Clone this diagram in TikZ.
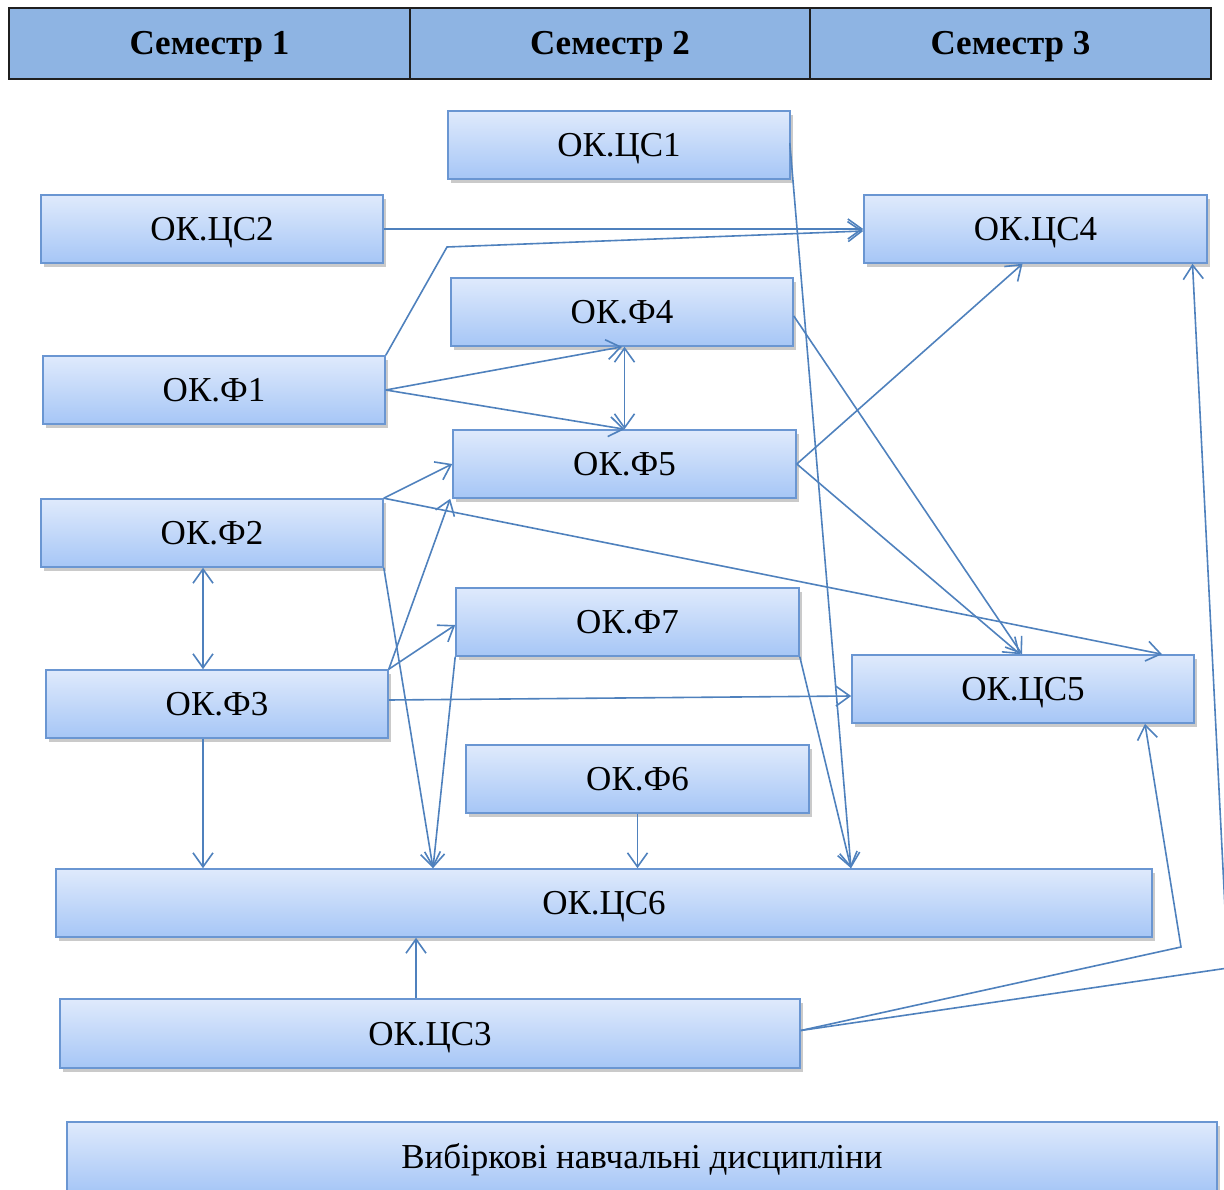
\documentclass[tikz,border=0pt]{standalone}
\usepackage{fontspec}
\setmainfont{Liberation Serif}
\usetikzlibrary{arrows.meta,shadows,calc}
\definecolor{hdrfill}{HTML}{8EB4E3}
\definecolor{hdrline}{HTML}{1F1F1F}
\definecolor{boxline}{HTML}{6A96D2}
\definecolor{boxtop}{HTML}{DFEAFC}
\definecolor{boxbot}{HTML}{A6C6F6}
\definecolor{conn}{HTML}{4F81BD}
\tikzset{
  hdr/.style={draw=hdrline, line width=2pt, fill=hdrfill, minimum width=401pt, minimum height=71pt, inner sep=0pt, text height=23pt, text depth=0pt, font=\fontsize{35}{40}\selectfont\bfseries},
  okbox/.style={draw=boxline, line width=1.6pt, top color=boxtop, bottom color=boxbot, minimum width=342pt, minimum height=68pt, inner sep=0pt, text height=23pt, text depth=0pt, font=\fontsize{35}{40}\selectfont,
    drop shadow={shadow xshift=3pt, shadow yshift=-4pt, opacity=0.35, fill=black!60}},
  link/.style={draw=conn, line width=1.6pt, -{Straight Barb[length=14pt,width=20pt]}},
  dlink/.style={draw=conn, line width=1.6pt, {Straight Barb[length=14pt,width=20pt]}-{Straight Barb[length=14pt,width=20pt]}},
  plain/.style={draw=conn, line width=1.6pt}
}
\begin{document}
\begin{tikzpicture}[x=1pt,y=-1pt]
\useasboundingbox (0,0) rectangle (1224,1190);
\clip (0,0) rectangle (1224,1190);
% header
\node[hdr] (h1) at (209.5,43.5) {Семестр 1};
\node[hdr] (h2) at (610,43.5) {Семестр 2};
\node[hdr] (h3) at (1010.5,43.5) {Семестр 3};
% boxes
\node[okbox] (cs1) at (619,145) {ОК.ЦС1};
\node[okbox] (cs2) at (212,229) {ОК.ЦС2};
\node[okbox, minimum width=343pt] (cs4) at (1035.5,229) {ОК.ЦС4};
\node[okbox] (f4) at (622,312) {ОК.Ф4};
\node[okbox] (f1) at (214,390) {ОК.Ф1};
\node[okbox, minimum width=343pt] (f5) at (624.5,464) {ОК.Ф5};
\node[okbox] (f2) at (212,533) {ОК.Ф2};
\node[okbox, minimum width=343pt] (f7) at (627.5,622) {ОК.Ф7};
\node[okbox] (cs5) at (1023,689) {ОК.ЦС5};
\node[okbox] (f3) at (217,704) {ОК.Ф3};
\node[okbox, minimum width=343pt] (f6) at (637.5,779) {ОК.Ф6};
\node[okbox, minimum width=1096pt] (cs6) at (604,903) {ОК.ЦС6};
\node[okbox, minimum width=740pt, minimum height=69pt] (cs3) at (430,1033.5) {ОК.ЦС3};
\node[okbox, minimum width=1150pt, minimum height=70pt] (vyb) at (642,1157) {Вибіркові навчальні дисципліни};
% connectors
\draw[link] (cs2.east) -- (cs4.west);
\draw[link] (f1.north east) -- (447,247) -- ([yshift=-2pt]cs4.west);
\draw[link] ([xshift=-1pt,yshift=2pt]cs1.east) -- ([xshift=247pt]cs6.north);
\draw[link] (f1.east) -- (f4.south);
\draw[link] (f1.east) -- (f5.north);
\draw[dlink] (f5.north |- f4.south) -- (f5.north);
\draw[link] ([yshift=-4pt]f4.east) -- ([xshift=-1pt]cs5.north);
\draw[link] (f5.east) -- ([xshift=-13pt]cs4.south);
\draw[link] (f5.east) -- ([xshift=-3pt]cs5.north);
\draw[link] (f2.north east) -- (f5.west);
\draw[link] (f2.north east) -- ([xshift=139pt]cs5.north);
\draw[link] (f2.south east) -- ([xshift=-171pt]cs6.north);
\draw[dlink] ([xshift=-9pt]f2.south) -- ([xshift=-14pt]f3.north);
\draw[link] (f3.north east) -- ([xshift=-2pt]f5.south west);
\draw[link] (f3.north east) -- ([yshift=-3pt]f7.west);
\draw[link] ([yshift=4pt]f3.east) -- ([yshift=-7pt]cs5.west);
\draw[link] ([xshift=-14pt]f3.south) -- ([xshift=-14pt]f3.south |- cs6.north);
\draw[link] (f7.south west) -- ([xshift=-171pt]cs6.north);
\draw[link] (f7.south east) -- ([xshift=247pt]cs6.north);
\draw[link] (f6.south) -- (f6.south |- cs6.north);
\draw[link] ([xshift=-14pt]cs3.north) -- ([xshift=-14pt]cs3.north |- cs6.south);
\draw[link] ([yshift=3pt]cs3.east) -- (1181,947) -- ([xshift=122pt]cs5.south);
\draw[link] ([yshift=3pt]cs3.east) -- (1228,968) -- ([xshift=157pt]cs4.south);
\end{tikzpicture}
\end{document}
